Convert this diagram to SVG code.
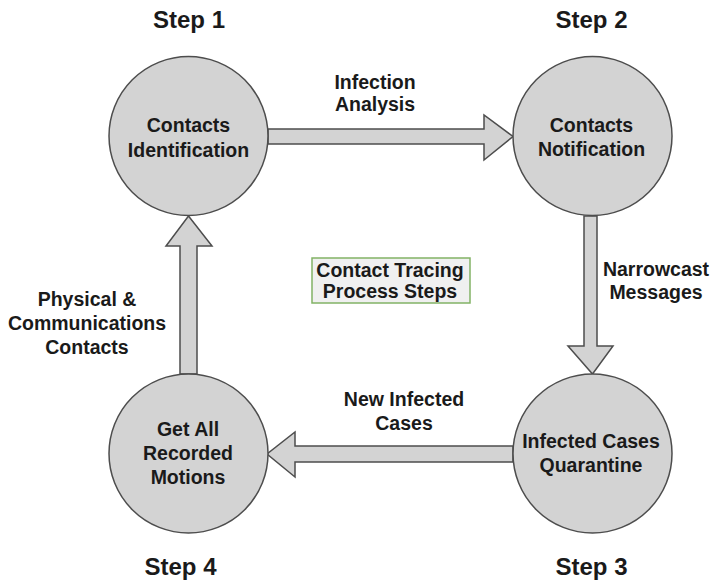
<svg xmlns="http://www.w3.org/2000/svg" width="714" height="584" viewBox="0 0 714 584">
  <style>
    .node { fill: #d3d3d3; stroke: #4d4d4d; stroke-width: 1.5; }
    .arrow { fill: #d3d3d3; stroke: #4d4d4d; stroke-width: 1.5; stroke-linejoin: miter; }
    text { font-family: "Liberation Sans", Arial, sans-serif; font-weight: bold; fill: #1a1a1a; text-anchor: middle; }
    .lbl { font-size: 19.5px; }
    .step { font-size: 24px; }
    .title-box { fill: #f0f0f0; stroke: #82b366; stroke-width: 1.5; }
  </style>
  <rect width="714" height="584" fill="#ffffff"/>

  <!-- block arrows between steps -->
  <g id="connectors">
    <!-- step 1 -> step 2 -->
    <polygon class="arrow" points="268,129 484,129 484,115 513,136.5 484,160 484,144 268,144"/>
    <!-- step 2 -> step 3 -->
    <polygon class="arrow" points="584,216 597,216 597,346 613,346 592.5,374 568,346 584,346"/>
    <!-- step 3 -> step 4 -->
    <polygon class="arrow" points="513,446 295,446 295,432 267,454 295,477 295,462 513,462"/>
    <!-- step 4 -> step 1 -->
    <polygon class="arrow" points="180,374 180,246 166,246 188.5,216 212,246 197,246 197,374"/>

    <text class="lbl" x="375" y="89">Infection</text>
    <text class="lbl" x="375" y="111">Analysis</text>
    <text class="lbl" x="656" y="276">Narrowcast</text>
    <text class="lbl" x="656" y="299">Messages</text>
    <text class="lbl" x="404" y="406">New Infected</text>
    <text class="lbl" x="404" y="430">Cases</text>
    <text class="lbl" x="87" y="306">Physical &amp;</text>
    <text class="lbl" x="87" y="330">Communications</text>
    <text class="lbl" x="87" y="354">Contacts</text>
  </g>

  <g id="step1">
    <circle class="node" cx="188.5" cy="136" r="79.5"/>
    <text class="lbl" x="188.5" y="132">Contacts</text>
    <text class="lbl" x="188.5" y="157">Identification</text>
    <text class="step" x="189" y="28">Step 1</text>
  </g>

  <g id="step2">
    <circle class="node" cx="592.5" cy="136" r="79.5"/>
    <text class="lbl" x="591.5" y="132">Contacts</text>
    <text class="lbl" x="591.5" y="156">Notification</text>
    <text class="step" x="591.5" y="28">Step 2</text>
  </g>

  <g id="step3">
    <circle class="node" cx="592.5" cy="453.5" r="79.5"/>
    <text class="lbl" x="591" y="448">Infected Cases</text>
    <text class="lbl" x="591" y="472">Quarantine</text>
    <text class="step" x="591.5" y="575">Step 3</text>
  </g>

  <g id="step4">
    <circle class="node" cx="188.5" cy="453.5" r="79.5"/>
    <text class="lbl" x="188" y="436">Get All</text>
    <text class="lbl" x="188" y="460">Recorded</text>
    <text class="lbl" x="188" y="484">Motions</text>
    <text class="step" x="180.5" y="575">Step 4</text>
  </g>

  <g id="title">
    <rect class="title-box" x="312" y="258" width="158" height="45"/>
    <text class="lbl" x="390" y="277">Contact Tracing</text>
    <text class="lbl" x="390" y="298">Process Steps</text>
  </g>
</svg>
